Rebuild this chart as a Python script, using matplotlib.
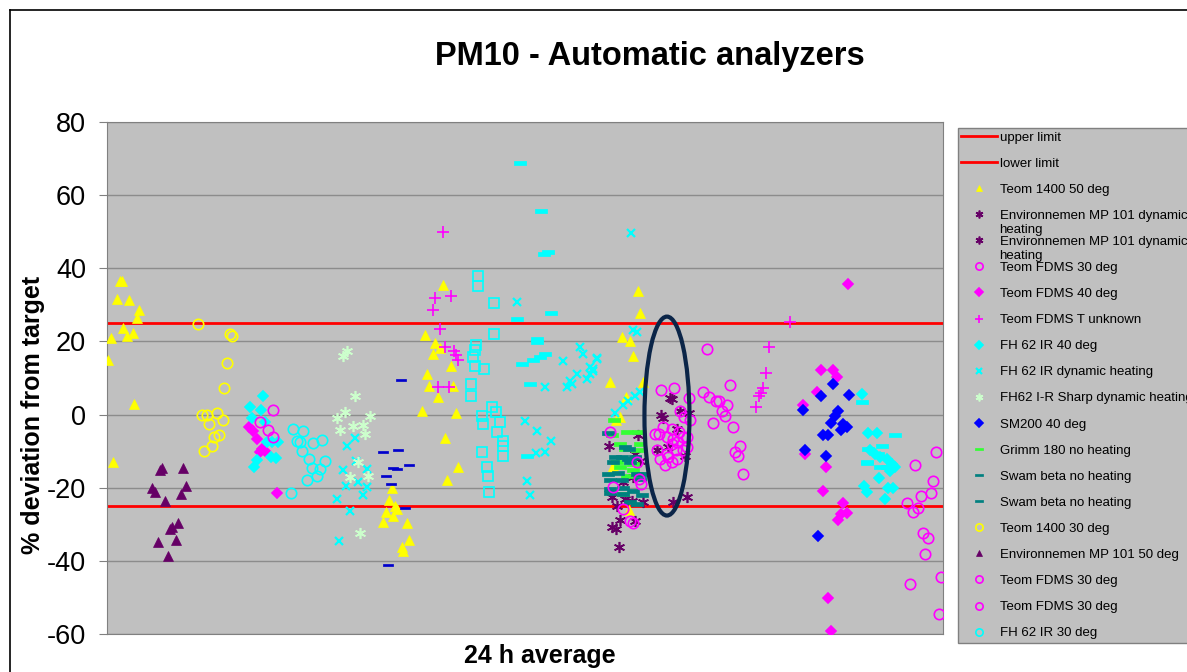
import matplotlib.pyplot as plt
from matplotlib.patches import Ellipse
from matplotlib.lines import Line2D
from matplotlib.transforms import IdentityTransform

plt.rcParams['font.family'] = ['Liberation Sans', 'DejaVu Sans']
plt.rcParams['axes.unicode_minus'] = False

# x = sample number along the 24 h average axis, y = % deviation from target
teom1400_50_x = [6.5, 7.5, 5, 11, 16, 15, 8, 10, 13, 2, 0.5, 13.5, 3,
                 142.5, 141, 144, 139.5, 143, 138, 145, 150, 151, 147.5, 148,
                 168, 159, 164, 166.5, 163, 172, 160, 161, 173, 165.5, 157.5, 174.5, 169, 175.5, 170,
                 265.5, 266.5, 257.5, 261.5, 263, 251.5, 268, 259.5, 256.5, 254.5, 253, 261]
teom1400_50_y = [36.4, 36.6, 31.7, 31.4, 28.7, 26.5, 23.8, 21.6, 22.2, 21.0, 15.0, 3.0, -13.0,
                 -20, -23.3, -24.9, -26.7, -27.6, -29.4, -25.8, -29.7, -34.3, -36.3, -37.4,
                 35.5, 21.9, 19.5, 18.2, 16.6, 13.4, 11.1, 7.9, 7.7, 4.9, 0.9, 0.4, -6.4, -14.4, -17.9,
                 33.9, 27.8, 21.1, 20.1, 15.9, 9.0, 8.8, 4.7, -0.7, -1.6, -14, -26]

env_dyn1_x = [265.5, 251, 264, 266.5, 263, 258, 252.5, 255, 259, 262.5, 268, 256.5, 264, 252.5, 254.5, 256]
env_dyn1_y = [-5.7, -8.7, -10.8, -12.6, -17.1, -18.5, -22.6, -24.9, -23.1, -23.5, -24, -28.8, -29, -30.8, -31.3, -36.1]
env_dyn2_x = [281.5, 277, 291, 275, 280.5, 289, 283, 290, 282.5, 278, 286.5, 285]
env_dyn2_y = [4.6, 0, 0.4, -9.8, -8.9, -11.2, -24, -22.6, 4.3, -0.9, 1.1, -3.9]

fdms30a_x = [300, 311.5, 277, 283.5, 291, 298, 301, 304.5, 306, 310, 307.5, 309, 286.5, 288.5,
             291.5, 303, 313, 278, 282.5, 286, 274, 276, 280, 283, 288, 290, 285, 282.5, 316.5,
             290, 275, 280, 314, 315.5, 284.5, 288, 276.5, 280.5, 285, 279, 282.5, 318]
fdms30a_y = [17.9, 8.2, 6.8, 7.3, 4.5, 6.1, 4.7, 3.8, 3.6, 2.7, 1.1, -0.3, 1.1, -0.7,
             -1.6, -2.4, -3.3, -3.5, -3.9, -4.8, -5.3, -5.3, -6.2, -6.6, -6.0, -6.0, -7.6, -8.0, -8.5,
             -8.9, -9.8, -10.8, -10.3, -11.2, -9.8, -9.8, -12.1, -11.7, -12.1, -13.9, -13.0, -16.2]
fdms30b_x = [83, 76.5, 80.5, 83, 251.5, 266, 267, 253, 258, 261.5, 263, 265]
fdms30b_y = [1.3, -2.1, -4.2, -6.2, -4.8, -17.6, -19, -19.7, -25.8, -29, -29.7, -13]
fdms30c_x = [414.5, 404, 413, 412, 407, 400, 403, 405.5, 408, 410.5, 409, 401.5, 417, 416]
fdms30c_y = [-10.1, -13.9, -18.2, -21.5, -22.2, -24.3, -26.7, -25.5, -32.3, -33.7, -38.1, -46.3, -44.5, -54.5]

fdms40_x = [71, 73, 75, 77.5, 79, 76.5, 85,
            370.5, 357, 363, 365, 355, 348, 349, 359.5, 358, 368, 367, 370, 365.5, 360.5, 362]
fdms40_y = [-3.5, -4.4, -6.6, -9.4, -10, -10.3, -21.5,
            35.7, 12.3, 12.3, 10.2, 6.1, 2.7, -10.8, -14.2, -21, -24.3, -27.2, -26.8, -28.8, -50.1, -59.3]

fdms_unk_x = [168, 164, 172, 163, 166.5, 169, 173.5, 174.5, 175.5, 165.5, 171,
              341.5, 331, 329.5, 328, 327, 326, 324.5]
fdms_unk_y = [49.9, 31.9, 32.5, 28.7, 23.4, 18.6, 17.3, 16.4, 15.0, 7.5, 7.5,
              25.2, 18.6, 11.3, 7.3, 5.8, 5.2, 2.0]

fh62_40_x = [78, 71.5, 77, 72.5, 79, 80, 82.5, 85.5, 82, 84.5, 75, 73.5,
             377.5, 380.5, 385, 381.5, 384, 386.5, 390, 392.5, 391.5, 394, 386, 378.5, 380, 390.5, 393, 389]
fh62_40_y = [5.2, 2.2, 1.3, -0.9, -2.1, -7.6, -7.6, -7.6, -11.5, -11.8, -12.4, -14.2,
             5.5, -5.1, -5.1, -9.8, -10.8, -11.7, -12.1, -13.5, -15.3, -14.2, -17.3, -19.4, -21.2, -20, -20, -23.1]

fh62_dyn_x = [124, 120, 118, 124.5, 130, 119.5, 125.5, 130, 128, 115, 121.5, 116,
              205, 236.5, 238, 245, 228, 241.5, 243, 240, 235, 231.5, 230, 232.5, 219,
              209, 215, 222, 214.5, 219, 210, 211.5,
              262, 263, 265, 245, 243, 241.5, 264, 266.5, 260.5, 258, 254]
fh62_dyn_y = [-6.4, -8.7, -15.1, -12.6, -14.9, -19.4, -18.5, -19.9, -22.1, -23.1, -26.4, -34.5,
              30.9, 18.6, 16.6, 15.5, 14.6, 12.9, 11.8, 9.8, 11.1, 9.3, 7.5, 8.4, 7.5,
              -1.8, -4.6, -7.3, -10.6, -10.3, -18.2, -22.1,
              49.6, 23, 22.5, 15.2, 12.5, 11.1, 5.2, 6.1, 3.8, 2.5, 0.4]

sharp_x = [120, 118, 124, 115, 119, 131.5, 116.5, 123, 128, 129, 125.5, 121.5, 130.5, 126.5]
sharp_y = [17.5, 16.1, 5.2, -0.9, 0.6, -0.5, -4.2, -3.0, -2.8, -5.3, -13, -17, -16.7, -32.5]

sm200_x = [363, 357, 371, 348, 365.5, 364, 362, 368, 370, 367, 358, 360.5, 349, 359.5, 355.5]
sm200_y = [8.4, 5.0, 5.4, 1.3, 1.1, -0.5, -2.4, -2.5, -3.5, -4.2, -5.7, -5.5, -9.8, -11.4, -33.3]

grimm_x = [253.5, 260, 265.5, 252.5, 256.5, 266.5, 259, 265, 255, 263, 256.5, 263, 260, 266.5, 258]
grimm_y = [-1.5, -4.8, -4.8, -5.5, -8, -8, -9.4, -9.8, -13, -13.5, -14.4, -15.1, -16.7, -16.2, -21.7]

swam1_x = [259, 261, 254, 257.5, 260.5, 264, 253, 261.5, 250.5]
swam1_y = [-8.9, -9.4, -11.7, -11.7, -12.1, -11.7, -13, -13, -5.1]
swam2_x = [250.5, 255.5, 265, 268, 251.5, 257.5, 266.5, 251.5, 258, 263, 251.5, 258, 267.5, 261.5, 265]
swam2_y = [-16.2, -16, -16.2, -16.2, -18, -18, -17.6, -20.3, -20, -20.8, -21.5, -21.7, -22.1, -24, -24.4]

teom1400_30_x = [45.5, 61.5, 62.5, 60, 58.5, 47.5, 50, 55, 58, 51, 56, 53.5, 52.5, 48.5]
teom1400_30_y = [24.8, 22.1, 21.6, 14.1, 7.3, 0, 0, 0.5, -1.4, -2.5, -5.5, -6, -8.7, -10]

env50_x = [27.5, 26.5, 38, 22.5, 24, 39.5, 37, 29, 35.5, 32.5, 31.5, 25.5, 34.5, 30.5]
env50_y = [-14.6, -15.1, -14.7, -20, -21.2, -19.6, -21.7, -23.5, -29.7, -30.6, -31.4, -34.7, -34.3, -38.6]

fh62_30_x = [93, 98, 95, 96.5, 103, 107.5, 97.5, 101, 109, 102.5, 106.5, 105, 100, 92]
fh62_30_y = [-3.9, -4.6, -7.1, -7.6, -7.8, -6.9, -10, -12.1, -12.8, -14.6, -14.9, -16.7, -17.9, -21.5]

# series without a legend entry
blue_dash_x = [147, 138, 145.5, 143, 145, 151, 139.5, 142, 149, 140.5]
blue_dash_y = [9.5, -10.3, -9.8, -14.6, -14.9, -13.8, -16.7, -19.1, -25.5, -41]
cyan_sq_x = [185.5, 185.5, 193.5, 193.5, 184.5, 184, 183, 184, 188.5, 182, 182, 192.5,
             194.5, 187.5, 188, 196.5, 195, 198, 198, 198, 187.5, 190, 190.5, 191]
cyan_sq_y = [38, 35.3, 30.4, 22, 19.1, 17.7, 15.7, 13.4, 12.5, 8.4, 5.2, 2.0,
             0.6, -0.3, -2.7, -2.1, -4.8, -7.1, -8.5, -11.2, -10.3, -14.2, -16.7, -21.2]
cyan_dash_x = [206.5, 217, 218.5, 220.5, 222, 205, 215, 215, 219, 216.5, 213, 207.5, 211.5, 210,
               377.5, 394, 387.5, 380, 386.5, 380.5, 385.5, 380, 390]
cyan_dash_y = [68.8, 55.8, 43.9, 44.4, 27.7, 26.2, 20.7, 19.8, 16.6, 15.7, 14.8, 13.9, 8.4, -11.2,
               3.4, -5.7, -8.5, -13, -14.4, -9.4, -10.8, -13.2, -14.2]

upper_limit = 25
lower_limit = -25

dash = [(-1, -0.3), (1, -0.3), (1, 0.3), (-1, 0.3), (-1, -0.3)]
star = (6, 2, 0)

fig = plt.figure(figsize=(11.87, 6.72), dpi=100)
ax = fig.add_axes([0.0901, 0.0565, 0.7043, 0.7619])
ax.set_facecolor('#c0c0c0')

ax.axhline(upper_limit, color='#ff0000', lw=2, label='upper limit', zorder=2)
ax.axhline(lower_limit, color='#ff0000', lw=2, label='lower limit', zorder=2)


def pts(x, y, marker, color, ms, label=None, filled=True, mew=1.2):
    kw = dict(ls='none', marker=marker, ms=ms, mew=mew, zorder=3)
    if filled:
        kw.update(mfc=color, mec=color)
    else:
        kw.update(mfc='none', mec=color)
    if label is None:
        ax.plot(x, y, **kw)
    else:
        ax.plot(x, y, label=label, **kw)


pts(teom1400_50_x, teom1400_50_y, '^', '#ffff00', 7, 'Teom 1400 50 deg', mew=0.5)
pts(env_dyn1_x, env_dyn1_y, star, '#660066', 8, 'Environnemen MP 101 dynamic')
pts(env_dyn2_x, env_dyn2_y, star, '#660066', 8, 'Environnemen MP 101 dynamic')
pts(fdms30a_x, fdms30a_y, 'o', '#ff00ff', 7.5, 'Teom FDMS 30 deg', filled=False)
pts(fdms40_x, fdms40_y, 'D', '#ff00ff', 5.5, 'Teom FDMS 40 deg')
pts(fdms_unk_x, fdms_unk_y, '+', '#ff00ff', 8, 'Teom FDMS T unknown')
pts(fh62_40_x, fh62_40_y, 'D', '#00ffff', 5.5, 'FH 62 IR 40 deg')
pts(fh62_dyn_x, fh62_dyn_y, 'x', '#00ffff', 6, 'FH 62 IR dynamic heating', mew=1.6)
pts(sharp_x, sharp_y, star, '#ccffcc', 8, 'FH62 I-R Sharp dynamic heating')
pts(sm200_x, sm200_y, 'D', '#0000ff', 5.5, 'SM200 40 deg')
pts(grimm_x, grimm_y, dash, '#33ff33', 8, 'Grimm 180 no heating', mew=0.5)
pts(swam1_x, swam1_y, dash, '#008080', 8, 'Swam beta no heating', mew=0.5)
pts(swam2_x, swam2_y, dash, '#008080', 8, 'Swam beta no heating', mew=0.5)
pts(teom1400_30_x, teom1400_30_y, 'o', '#ffff00', 7.5, 'Teom 1400 30 deg', filled=False)
pts(env50_x, env50_y, '^', '#660066', 7, 'Environnemen MP 101 50 deg', mew=0.5)
pts(fdms30b_x, fdms30b_y, 'o', '#ff00ff', 7.5, 'Teom FDMS 30 deg', filled=False)
pts(fdms30c_x, fdms30c_y, 'o', '#ff00ff', 7.5, 'Teom FDMS 30 deg', filled=False)
pts(fh62_30_x, fh62_30_y, 'o', '#00ffff', 7.5, 'FH 62 IR 30 deg', filled=False)

pts(blue_dash_x, blue_dash_y, dash, '#0000cc', 7, mew=0.5)
pts(cyan_sq_x, cyan_sq_y, 's', '#00ffff', 7, filled=False)
pts(cyan_dash_x, cyan_dash_y, dash, '#00ffff', 8, mew=0.5)

ax.add_patch(Ellipse((280, -0.4), 22.5, 54.4, fill=False, ec='#0b2548', lw=3, zorder=4))

ax.set_xlim(0, 418)
ax.set_ylim(-60, 80)
ax.set_yticks(range(-60, 81, 20))
ax.set_xticks([])
ax.grid(axis='y', color='#8c8c8c', lw=1)
ax.set_axisbelow(True)
ax.tick_params(axis='y', labelsize=19.5, length=6, color='#808080', pad=9)
for s in ax.spines.values():
    s.set_color('#808080')

leg = fig.legend(loc='upper left', bbox_to_anchor=(958 / 1187, 1 - 128 / 672),
                 fontsize=9.5, numpoints=1, markerscale=0.7, handlelength=2.7,
                 handletextpad=0.2, labelspacing=1.05, borderpad=0.25,
                 borderaxespad=0, fancybox=False, framealpha=1)
leg.get_frame().set_facecolor('#c0c0c0')
leg.get_frame().set_edgecolor('#808080')

fig.text(650 / 1187, 1 - 56 / 672, 'PM10 - Automatic analyzers', ha='center', va='center',
         fontsize=23.5, fontweight='bold')
fig.text(540 / 1187, 1 - 656 / 672, '24 h average', ha='center', va='center',
         fontsize=18, fontweight='bold')
fig.text(33 / 1187, 1 - 415 / 672, '% deviation from target', ha='center', va='center',
         rotation=90, fontsize=18, fontweight='bold')

# figure border (right and bottom edges fall outside the image)
fig.add_artist(Line2D([10 / 1187, 10 / 1187], [0, 1 - 10 / 672], transform=fig.transFigure,
                      color='black', lw=1.2))
fig.add_artist(Line2D([10 / 1187, 1], [1 - 10 / 672, 1 - 10 / 672], transform=fig.transFigure,
                      color='black', lw=1.2))

# wrapped second line of the long legend labels
fig.canvas.draw()
for t in leg.get_texts():
    if t.get_text().startswith('Environnemen MP 101 dynamic'):
        bb = t.get_window_extent()
        fig.text(bb.x0, (bb.y0 + bb.y1) / 2 - 14, 'heating', transform=IdentityTransform(),
                 ha='left', va='center', fontsize=9.5, zorder=10)

fig.savefig('out.png', dpi=100)
